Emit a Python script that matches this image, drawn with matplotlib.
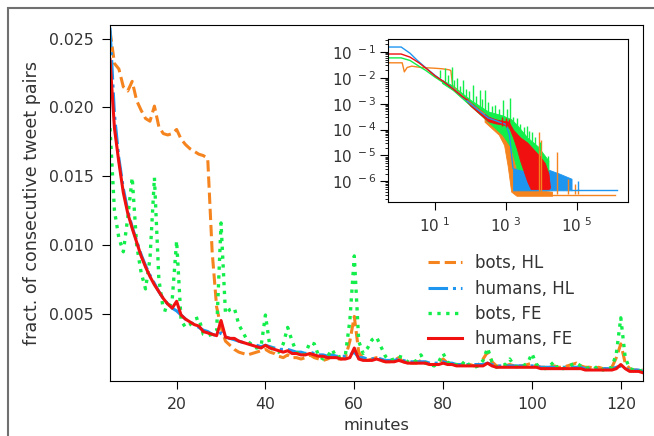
import matplotlib
matplotlib.use("Agg")
import matplotlib.pyplot as plt
import numpy as np
from matplotlib.patches import Rectangle
from matplotlib.ticker import FixedLocator, NullLocator, LogLocator, FuncFormatter

# main panel: fraction per minute gap, minutes 5..125
minutes = list(range(5, 126))

bots_hl = [
    0.0256, 0.0232, 0.0228, 0.0215, 0.0212, 0.0219, 0.0205, 0.0198, 0.0192, 0.0190,
    0.0201, 0.0186, 0.0181, 0.0180, 0.0181, 0.0184, 0.0177, 0.0173, 0.0170, 0.0168,
    0.0166, 0.0165, 0.0163, 0.0095, 0.0055, 0.0040, 0.0030, 0.0027, 0.0024, 0.0022,
    0.0021, 0.0020, 0.0021, 0.0022, 0.0023, 0.0024, 0.0022, 0.0021, 0.0019, 0.0018,
    0.0020, 0.0018, 0.0018, 0.0017, 0.0018, 0.0020, 0.0018, 0.0017, 0.0016, 0.0017,
    0.0019, 0.0017, 0.0017, 0.0018, 0.0030, 0.0048, 0.0022, 0.0017, 0.0016, 0.0017,
    0.0018, 0.0016, 0.0015, 0.0015, 0.0016, 0.0018, 0.0015, 0.0014, 0.0014, 0.0014,
    0.0016, 0.0014, 0.0013, 0.0013, 0.0014, 0.0017, 0.0014, 0.0013, 0.0013, 0.0013,
    0.0014, 0.0013, 0.0012, 0.0013, 0.0017, 0.0022, 0.0015, 0.0012, 0.0012, 0.0012,
    0.0013, 0.0012, 0.0012, 0.0012, 0.0013, 0.0014, 0.0012, 0.0011, 0.0011, 0.0011,
    0.0012, 0.0011, 0.0011, 0.0012, 0.0013, 0.0014, 0.0012, 0.0011, 0.0011, 0.0010,
    0.0011, 0.0010, 0.0010, 0.0011, 0.0018, 0.0028, 0.0014, 0.0010, 0.0009, 0.0009,
    0.0009]

humans_hl = [
    0.0258, 0.0195, 0.0163, 0.0141, 0.0125, 0.0113, 0.0103, 0.0093, 0.0085, 0.0078,
    0.0072, 0.0066, 0.0061, 0.0057, 0.0054, 0.0052, 0.0049, 0.0046, 0.0044, 0.0042,
    0.0040, 0.0038, 0.0037, 0.0035, 0.0034, 0.0036, 0.0033, 0.0032, 0.0031, 0.0030,
    0.0029, 0.0028, 0.0028, 0.0027, 0.0026, 0.0027, 0.0026, 0.0025, 0.0024, 0.0024,
    0.0024, 0.0023, 0.0022, 0.0022, 0.0021, 0.0022, 0.0021, 0.0020, 0.0020, 0.0019,
    0.0020, 0.0019, 0.0019, 0.0019, 0.0020, 0.0022, 0.0018, 0.0018, 0.0017, 0.0017,
    0.0018, 0.0017, 0.0016, 0.0016, 0.0016, 0.0017, 0.0016, 0.0015, 0.0015, 0.0015,
    0.0015, 0.0015, 0.0014, 0.0014, 0.0014, 0.0015, 0.0014, 0.0014, 0.0013, 0.0013,
    0.0013, 0.0013, 0.0013, 0.0013, 0.0013, 0.0014, 0.0013, 0.0012, 0.0012, 0.0012,
    0.0012, 0.0012, 0.0012, 0.0012, 0.0012, 0.0012, 0.0012, 0.0011, 0.0011, 0.0011,
    0.0011, 0.0011, 0.0011, 0.0011, 0.0011, 0.0011, 0.0011, 0.0010, 0.0010, 0.0010,
    0.0010, 0.0010, 0.0010, 0.0010, 0.0011, 0.0012, 0.0010, 0.0009, 0.0009, 0.0009,
    0.0008]

bots_fe = [
    0.0185, 0.0125, 0.0105, 0.0095, 0.0120, 0.0149, 0.0100, 0.0080, 0.0068, 0.0090,
    0.0149, 0.0075, 0.0053, 0.0052, 0.0060, 0.0103, 0.0045, 0.0040, 0.0042, 0.0046,
    0.0047, 0.0035, 0.0034, 0.0035, 0.0037, 0.0116, 0.0050, 0.0053, 0.0054, 0.0042,
    0.0036, 0.0030, 0.0027, 0.0025, 0.0026, 0.0049, 0.0026, 0.0023, 0.0022, 0.0028,
    0.0040, 0.0030, 0.0022, 0.0019, 0.0021, 0.0029, 0.0028, 0.0019, 0.0017, 0.0019,
    0.0024, 0.0018, 0.0019, 0.0020, 0.0045, 0.0092, 0.0030, 0.0021, 0.0025, 0.0031,
    0.0033, 0.0026, 0.0019, 0.0016, 0.0017, 0.0019, 0.0018, 0.0015, 0.0014, 0.0016,
    0.0020, 0.0014, 0.0013, 0.0012, 0.0015, 0.0021, 0.0015, 0.0012, 0.0013, 0.0012,
    0.0016, 0.0012, 0.0011, 0.0012, 0.0016, 0.0025, 0.0015, 0.0011, 0.0012, 0.0013,
    0.0017, 0.0012, 0.0011, 0.0012, 0.0014, 0.0021, 0.0013, 0.0011, 0.0010, 0.0012,
    0.0015, 0.0009, 0.0010, 0.0011, 0.0013, 0.0014, 0.0012, 0.0010, 0.0011, 0.0010,
    0.0012, 0.0009, 0.0010, 0.0011, 0.0021, 0.0047, 0.0018, 0.0010, 0.0009, 0.0008,
    0.0009]

humans_fe = [
    0.0235, 0.0185, 0.0160, 0.0138, 0.0123, 0.0112, 0.0102, 0.0092, 0.0084, 0.0077,
    0.0071, 0.0066, 0.0061, 0.0057, 0.0054, 0.0059, 0.0049, 0.0046, 0.0044, 0.0042,
    0.0041, 0.0037, 0.0036, 0.0035, 0.0034, 0.0045, 0.0033, 0.0032, 0.0032, 0.0030,
    0.0029, 0.0028, 0.0027, 0.0026, 0.0025, 0.0027, 0.0025, 0.0024, 0.0023, 0.0022,
    0.0023, 0.0021, 0.0021, 0.0020, 0.0020, 0.0021, 0.0020, 0.0019, 0.0019, 0.0018,
    0.0018, 0.0018, 0.0017, 0.0017, 0.0018, 0.0025, 0.0017, 0.0016, 0.0016, 0.0016,
    0.0017, 0.0016, 0.0015, 0.0015, 0.0015, 0.0016, 0.0015, 0.0014, 0.0014, 0.0014,
    0.0014, 0.0014, 0.0013, 0.0013, 0.0013, 0.0014, 0.0013, 0.0013, 0.0012, 0.0012,
    0.0012, 0.0012, 0.0012, 0.0012, 0.0012, 0.0014, 0.0012, 0.0011, 0.0011, 0.0011,
    0.0011, 0.0011, 0.0011, 0.0011, 0.0011, 0.0011, 0.0011, 0.0010, 0.0010, 0.0010,
    0.0010, 0.0010, 0.0010, 0.0010, 0.0010, 0.0010, 0.0010, 0.0009, 0.0009, 0.0009,
    0.0009, 0.0009, 0.0009, 0.0009, 0.0010, 0.0013, 0.0010, 0.0008, 0.0008, 0.0008,
    0.0007]

labels = ['bots, HL', 'humans, HL', 'bots, FE', 'humans, FE']
colors = ['#f5841f', '#1e96f0', '#12ee4a', '#f01010']

# inset (log-log), values as log10
# smooth part of each curve
bhl_lx = [-0.3, 0.08, 0.14, 0.22, 0.35, 0.6, 1.0, 1.2, 1.4, 1.45, 1.5, 1.8, 2.1, 2.4]
bhl_ly = [-1.42, -1.42, -1.77, -1.6, -1.55, -1.6, -1.63, -1.65, -1.69, -1.72, -2.3, -2.75, -3.1, -3.4]
hhl_lx = [-0.3, 0.05, 0.3, 0.5, 0.75, 1.0, 1.5, 2.0, 2.5, 3.0, 3.1, 3.2]
hhl_ly = [-0.81, -0.81, -1.05, -1.32, -1.62, -1.9, -2.4, -3.0, -3.55, -3.8, -4.2, -5.5]
bfe_lx = [-0.3, 0.05, 0.3, 0.55, 0.75, 1.0, 1.2]
bfe_ly = [-1.23, -1.23, -1.33, -1.55, -1.72, -1.97, -2.15]
hfe_lx = [-0.3, 0.05, 0.3, 0.55, 0.75, 1.0, 1.25, 1.5, 1.75, 1.9]
hfe_ly = [-1.08, -1.08, -1.2, -1.42, -1.63, -1.92, -2.15, -2.42, -2.7, -2.85]

# dense noisy part: lower / upper envelopes
bhl_bx = [2.4, 2.8, 2.95, 3.05, 3.15, 3.3, 3.6, 4.0, 4.3]
bhl_lo = [-3.7, -4.2, -4.6, -5.4, -6.4, -6.56, -6.56, -6.56, -6.56]
bhl_hi = [-3.3, -3.6, -3.9, -4.2, -4.6, -5.6, -6.3, -6.36, -6.4]
hhl_bx = [3.2, 3.5, 4.2, 4.5, 4.85]
hhl_lo = [-6.35, -6.35, -6.35, -6.35, -6.35]
hhl_hi = [-5.5, -5.55, -5.55, -5.7, -5.9]
bfe_bx = [1.2, 1.5, 2.0, 2.5, 2.9, 3.15, 3.3, 3.6, 3.9, 4.2]
bfe_lo = [-2.2, -2.47, -3.08, -3.7, -4.2, -4.7, -5.5, -5.6, -5.6, -5.6]
bfe_hi = [-2.08, -2.3, -2.85, -3.3, -3.45, -3.6, -3.8, -4.3, -4.65, -5.2]
hfe_bx = [1.9, 2.0, 2.25, 2.5, 2.7, 2.9, 3.05, 3.1, 3.2, 3.3, 3.4, 3.5, 3.6, 3.7, 3.8, 3.96, 4.1, 4.2, 4.24]
hfe_lo = [-2.9, -3.08, -3.38, -3.68, -3.76, -3.8, -3.85, -3.95, -4.3, -4.7, -5.2, -5.6, -6.0, -6.3, -6.3, -6.3, -6.3, -6.3, -6.25]
hfe_hi = [-2.8, -2.95, -3.22, -3.5, -3.6, -3.66, -3.68, -3.75, -4.0, -4.15, -4.3, -4.4, -4.5, -4.65, -4.8, -5.04, -5.3, -5.7, -6.2]

# isolated spikes: log10 x, bottom, top
bfe_spk = [(1.14, -2.0, -1.69), (1.28, -2.15, -1.62), (1.36, -2.2, -1.9), (1.48, -2.35, -1.58),
           (1.55, -2.4, -2.1), (1.62, -2.5, -2.0), (1.71, -2.6, -2.3), (1.79, -2.65, -2.08),
           (1.88, -2.75, -2.45), (1.97, -2.85, -2.5), (2.07, -2.95, -2.27), (2.17, -3.05, -2.7),
           (2.27, -3.15, -2.46), (2.34, -3.2, -2.8), (2.41, -3.3, -2.46), (2.5, -3.35, -2.95),
           (2.6, -3.45, -3.1), (2.69, -3.5, -3.04), (2.8, -3.55, -3.2), (2.92, -3.5, -2.85),
           (3.02, -3.6, -3.2), (3.11, -3.6, -2.77), (3.2, -3.8, -3.5), (3.3, -3.9, -3.55),
           (3.39, -4.0, -3.8), (3.5, -4.2, -3.9), (3.59, -4.3, -3.85), (3.66, -4.4, -4.05),
           (3.73, -4.5, -4.1), (3.82, -4.6, -4.27), (3.95, -4.8, -4.5), (4.18, -5.2, -5.04)]
hfe_spk = [(2.9, -3.85, -3.5), (3.0, -3.9, -3.55), (3.1, -3.95, -3.6)]
bhl_spk = [(3.93, -6.4, -4.1), (4.0, -6.4, -4.4), (4.44, -6.5, -4.85), (4.75, -6.5, -5.9),
           (4.94, -6.5, -6.1), (5.03, -6.5, -6.3)]
hhl_spk = [(4.6, -6.35, -5.92), (5.03, -6.35, -6.0)]
# flat tails
bhl_tail = [(4.3, 6.07), -6.54]
hhl_tail = [(4.85, 6.13), -6.35]

fig = plt.figure(figsize=(6.54, 4.36), dpi=100)
fig.add_artist(Rectangle((8 / 654, -0.2), 2, 1.2 - 8 / 436, transform=fig.transFigure,
                         fill=False, edgecolor='#707070', lw=1.5))

ax = fig.add_axes([110 / 654, 1 - 381 / 436, 533 / 654, 356 / 436])
ax.plot(minutes, bots_hl, '--', color=colors[0], lw=2.2, label=labels[0])
ax.plot(minutes, humans_hl, '-.', color=colors[1], lw=2.2, label=labels[1])
ax.plot(minutes, bots_fe, ':', color=colors[2], lw=2.4, label=labels[2])
ax.plot(minutes, humans_fe, '-', color=colors[3], lw=2.2, label=labels[3])
ax.set_xlim(5, 125)
ax.set_ylim(0.0001, 0.026)
ax.set_yticks([0.005, 0.010, 0.015, 0.020, 0.025])
ax.set_xticks([20, 40, 60, 80, 100, 120])
ax.tick_params(labelsize=11.3, colors='#333333', length=5.5, pad=6)
ax.tick_params(color='black')
ax.set_xlabel('minutes', fontsize=11.7, color='#333333', labelpad=4)
ax.set_ylabel('fract. of consecutive tweet pairs', fontsize=12.6, color='#333333', labelpad=6)
ax.legend(loc='upper left', bbox_to_anchor=(0.569, 0.398), frameon=False, fontsize=12,
          handlelength=2.0, labelspacing=0.44, labelcolor='#333333')

ins = fig.add_axes([388 / 654, 1 - 202 / 436, 240 / 654, 163 / 436])
smooth = [(bhl_lx, bhl_ly), (hhl_lx, hhl_ly), (bfe_lx, bfe_ly), (hfe_lx, hfe_ly)]
bands = [(bhl_bx, bhl_lo, bhl_hi), (hhl_bx, hhl_lo, hhl_hi), (bfe_bx, bfe_lo, bfe_hi), (hfe_bx, hfe_lo, hfe_hi)]
spikes = [bhl_spk, hhl_spk, bfe_spk, hfe_spk]
tails = [bhl_tail, hhl_tail, None, None]
for i in range(4):
    c = colors[i]
    lx, ly = smooth[i]
    ins.plot(10 ** np.array(lx), 10 ** np.array(ly), color=c, lw=1)
    bx, lo, hi = bands[i]
    ins.fill_between(10 ** np.array(bx), 10 ** np.array(lo), 10 ** np.array(hi),
                     color=c, lw=0.6)
    for sx, sb, st in spikes[i]:
        ins.vlines(10 ** sx, 10 ** sb, 10 ** st, color=c, lw=1)
    if tails[i] is not None:
        (t0, t1), ty = tails[i]
        ins.plot([10 ** t0, 10 ** t1], [10 ** ty, 10 ** ty], color=c, lw=1)

ins.set_xscale('log')
ins.set_yscale('log')
ins.set_xlim(10 ** -0.32, 10 ** 6.44)
ins.set_ylim(10 ** -6.8, 10 ** -0.5)
sup = FuncFormatter(lambda v, p: r'$10^{\ %d}$' % round(np.log10(v)))
ins.xaxis.set_major_locator(FixedLocator([1e1, 1e3, 1e5]))
ins.xaxis.set_minor_locator(NullLocator())
ins.xaxis.set_major_formatter(sup)
ins.yaxis.set_major_locator(FixedLocator([1e-6, 1e-5, 1e-4, 1e-3, 1e-2, 1e-1]))
ins.yaxis.set_minor_locator(LogLocator(base=10, subs=np.arange(2, 10), numticks=100))
ins.yaxis.set_major_formatter(sup)
ins.tick_params(labelsize=11, colors='#333333', length=5.5)
ins.tick_params(color='black')
ins.tick_params(axis='x', pad=5)
ins.tick_params(axis='y', pad=3)

fig.savefig('out.png', dpi=100)
